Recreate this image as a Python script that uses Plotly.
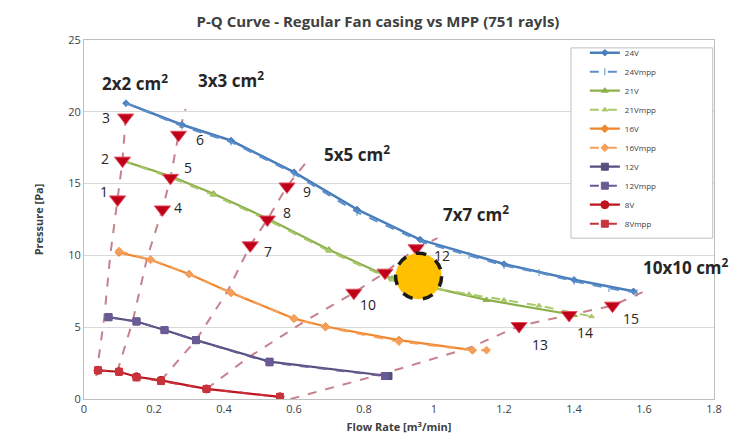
import plotly.graph_objects as go

# ---------------- data ----------------
q_24 = [0.12, 0.28, 0.42, 0.60, 0.78, 0.96, 1.20, 1.40, 1.57]
p_24 = [20.6, 19.1, 18.0, 15.8, 13.2, 11.1, 9.4, 8.3, 7.5]
q_24m = [0.12, 0.28, 0.42, 0.60, 0.78, 0.97, 1.10, 1.20, 1.30, 1.40, 1.50, 1.58]
p_24m = [20.6, 19.0, 17.9, 15.7, 13.0, 10.9, 10.0, 9.3, 8.8, 8.2, 7.7, 7.4]

q_21 = [0.11, 0.25, 0.37, 0.53, 0.70, 0.88, 1.15, 1.40]
p_21 = [16.6, 15.5, 14.3, 12.5, 10.4, 8.4, 6.9, 5.85]
q_21m = [0.11, 0.25, 0.37, 0.53, 0.70, 0.88, 1.00, 1.10, 1.20, 1.30, 1.45]
p_21m = [16.6, 15.4, 14.2, 12.4, 10.3, 8.3, 7.7, 7.3, 6.9, 6.5, 5.75]

q_16 = [0.10, 0.19, 0.30, 0.42, 0.60, 0.69, 0.90, 1.11]
p_16 = [10.2, 9.7, 8.7, 7.4, 5.6, 5.05, 4.1, 3.4]
q_16m = [0.10, 0.19, 0.30, 0.42, 0.60, 0.69, 0.90, 1.11, 1.15]
p_16m = [10.3, 9.7, 8.7, 7.4, 5.6, 5.0, 4.0, 3.4, 3.4]

q_12 = [0.07, 0.15, 0.23, 0.32, 0.53, 0.87]
p_12 = [5.7, 5.4, 4.8, 4.1, 2.6, 1.6]
q_12m = [0.07, 0.15, 0.23, 0.32, 0.53, 0.86]
p_12m = [5.7, 5.4, 4.8, 4.1, 2.55, 1.6]

q_8 = [0.04, 0.10, 0.15, 0.22, 0.35, 0.56]
p_8 = [2.0, 1.9, 1.55, 1.3, 0.7, 0.15]
q_8m = [0.04, 0.10, 0.15, 0.22, 0.35, 0.56]
p_8m = [2.0, 1.9, 1.5, 1.25, 0.7, 0.15]

# system (orifice) curves
sys_2x2_q = [0.035, 0.058, 0.075, 0.096, 0.11, 0.119]
sys_2x2_p = [1.6, 5.7, 10.0, 13.9, 16.6, 19.6]
sys_3x3_q = [0.095, 0.14, 0.18, 0.224, 0.247, 0.27, 0.29]
sys_3x3_p = [1.9, 5.5, 9.8, 13.2, 15.4, 18.4, 20.2]
sys_5x5_q = [0.22, 0.32, 0.41, 0.475, 0.524, 0.58, 0.645]
sys_5x5_p = [1.3, 4.1, 7.5, 10.7, 12.5, 14.8, 16.8]
sys_7x7_q = [0.35, 0.47, 0.63, 0.771, 0.86, 0.949, 1.01]
sys_7x7_p = [0.7, 2.9, 5.4, 7.4, 8.8, 10.5, 11.2]
sys_10_q = [0.59, 0.86, 1.10, 1.243, 1.386, 1.51, 1.61]
sys_10_p = [0.0, 1.8, 3.55, 5.08, 5.85, 6.5, 7.6]

# simulated points (triangles)
tri_q = [0.096, 0.11, 0.119, 0.224, 0.247, 0.27, 0.475, 0.524, 0.58,
         0.771, 0.86, 0.949, 1.243, 1.386, 1.51]
tri_p = [13.9, 16.6, 19.6, 13.2, 15.4, 18.4, 10.7, 12.5, 14.8,
         7.4, 8.8, 10.5, 5.08, 5.85, 6.5]
tri_labels = ["1", "2", "3", "4", "5", "6", "7", "8", "9",
              "10", "", "12", "13", "14", "15"]

size_labels = ["2x2 cm<sup>2</sup>", "3x3 cm<sup>2</sup>", "5x5 cm<sup>2</sup>",
               "7x7 cm<sup>2</sup>", "10x10 cm<sup>2</sup>"]
size_label_q = [0.147, 0.42, 0.78, 1.12, 1.72]
size_label_p = [21.6, 21.8, 16.7, 12.5, 8.8]

circle_q = 0.956
circle_p = 8.55

x_ticks = [0, 0.2, 0.4, 0.6, 0.8, 1, 1.2, 1.4, 1.6, 1.8]
y_ticks = [0, 5, 10, 15, 20, 25]

# ---------------- styles ----------------
FONT = "Open Sans"
SYS_COLOR = "rgba(196,122,134,0.95)"
label_shifts = [(-14, 8), (-18, 2), (-20, 0), (16, 2), (18, 10), (21, -5),
                (18, -6), (20, 7), (20, -5), (14, -12), (0, 0), (26, -7),
                (21, -18), (16, -18), (18, -13)]

fig = go.Figure()

for qs, ps in [(sys_2x2_q, sys_2x2_p), (sys_3x3_q, sys_3x3_p), (sys_5x5_q, sys_5x5_p),
               (sys_7x7_q, sys_7x7_p), (sys_10_q, sys_10_p)]:
    fig.add_trace(go.Scatter(x=qs, y=ps, mode="lines", showlegend=False,
                             line=dict(color=SYS_COLOR, width=2, dash="dash"),
                             hoverinfo="skip"))

series = [
    ("24V", q_24, p_24, "#4A7EBB", "diamond", 5, "solid", 2.5),
    ("24Vmpp", q_24m, p_24m, "#5B8FCC", "line-ns", 5, "dash", 2),
    ("21V", q_21, p_21, "#8DB04A", "triangle-up", 6, "solid", 2.2),
    ("21Vmpp", q_21m, p_21m, "#A9C86A", "triangle-up", 5, "dash", 2),
    ("16V", q_16, p_16, "#F0862E", "diamond", 6, "solid", 2.2),
    ("16Vmpp", q_16m, p_16m, "#F5A05A", "diamond", 6, "dash", 2),
    ("12V", q_12, p_12, "#55507F", "square", 7, "solid", 2.2),
    ("12Vmpp", q_12m, p_12m, "#6A5A95", "square", 7, "dash", 2),
    ("8V", q_8, p_8, "#C0141E", "circle", 8, "solid", 2.2),
    ("8Vmpp", q_8m, p_8m, "#C8343C", "square", 7, "dash", 2),
]
for name, qs, ps, col, sym, ms, dash, lw in series:
    fig.add_trace(go.Scatter(x=qs, y=ps, mode="lines+markers", name=name,
                             line=dict(color=col, width=lw, dash=dash),
                             marker=dict(symbol=sym, size=ms, color=col,
                                         line=dict(color=col, width=1))))

fig.add_trace(go.Scatter(x=tri_q, y=tri_p, mode="markers", showlegend=False,
                         marker=dict(symbol="triangle-down", size=14, color="#C00018",
                                     line=dict(color="#E05060", width=1))))

for q, p, t, (dx, dy) in zip(tri_q, tri_p, tri_labels, label_shifts):
    if t:
        fig.add_annotation(x=q, y=p, text=t, showarrow=False, xshift=dx, yshift=dy,
                           font=dict(family=FONT, size=14, color="#262626"))

for q, p, t in zip(size_label_q, size_label_p, size_labels):
    fig.add_annotation(x=q, y=p, text="<b>" + t + "</b>", showarrow=False, yshift=6,
                       font=dict(family=FONT, size=17, color="#262626"))

fig.add_shape(type="circle", xref="x", yref="y", xsizemode="pixel", ysizemode="pixel",
              xanchor=circle_q, yanchor=circle_p, x0=-23, x1=23, y0=-23, y1=23,
              fillcolor="#FFC000", line=dict(color="#1A1A1A", width=3.5, dash="dash"),
              layer="above")

# legend frame
fig.add_shape(type="rect", xref="paper", yref="paper", x0=0.773, x1=0.998,
              y0=0.448, y1=0.978, line=dict(color="#BFBFBF", width=1),
              fillcolor="white", layer="above")

fig.update_layout(
    width=743, height=442,
    margin=dict(l=76, r=37, t=32, b=51),
    paper_bgcolor="white", plot_bgcolor="white",
    font=dict(family=FONT, color="#404040"),
    title=dict(text="<b>P-Q Curve - Regular Fan casing vs MPP (751 rayls)</b>",
               x=0.498, xanchor="center", y=0.968, yanchor="middle",
               font=dict(family=FONT, size=15, color="#404040")),
    legend=dict(x=0.795, y=1.005, xanchor="left", yanchor="top",
                bgcolor="rgba(0,0,0,0)", borderwidth=0,
                font=dict(family=FONT, size=8, color="#404040"),
                itemwidth=30, tracegroupgap=0),
    xaxis=dict(range=[0, 1.8], tickvals=x_ticks, ticktext=[str(v) for v in x_ticks],
               showgrid=False, zeroline=False, showline=True, linecolor="#BFBFBF",
               mirror=True, ticks="", tickfont=dict(family=FONT, size=11, color="#404040"),
               title=dict(text="<b>Flow Rate [m<sup>3</sup>/min]</b>", standoff=8,
                          font=dict(family=FONT, size=11, color="#404040"))),
    yaxis=dict(range=[0, 25], tickvals=y_ticks, showgrid=True, gridcolor="#D9D9D9",
               zeroline=False, showline=True, linecolor="#BFBFBF", mirror=True,
               ticks="", tickfont=dict(family=FONT, size=11, color="#404040"),
               title=dict(text="<b>Pressure [Pa]</b>", standoff=22,
                          font=dict(family=FONT, size=11, color="#404040"))),
)

fig.write_html("out.html")
